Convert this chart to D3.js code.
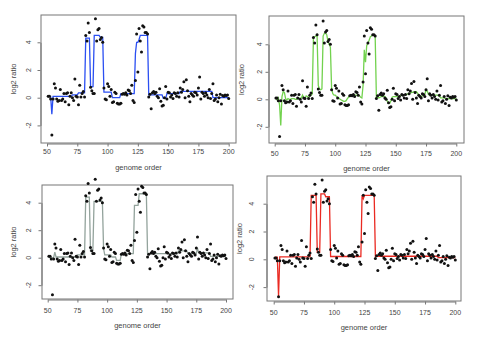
<!DOCTYPE html>
<html>
<head>
<meta charset="utf-8">
<script src="https://cdn.jsdelivr.net/npm/d3@7"></script>
<style>
  body { margin: 0; background: #fff; }
  svg { display: block; font-family: "Liberation Sans", Arial, sans-serif; }
</style>
</head>
<body>
<div class="chart"></div>
<script>
// size of the whole picture
var svgWidth = 478;
var svgHeight = 345;

// log2 ratio values, genome order 51..200
var genomeOrder = d3.range(51, 201);
var logRatio = [
  0.1, 0.1, -0.1, -2.7, -0.1, 1.0, 0.7, -0.1, -0.25, -0.2,
  0.6, -0.2, -0.1, 0.3, -0.3, 0.3, 0.35, -0.5, 0.1, 0.35,
  0.0, -0.2, 1.35, 0.1, 0.05, -0.5, 0.9, 0.05, 0.3, 0.45,
  0.05, 4.5, 4.1, 5.4, 4.7, 0.75, 0.5, 0.3, 0.3, 5.7,
  4.1, 4.9, 5.0, 4.2, 4.35, 4.0, 0.7, -0.1, -0.15, 1.0,
  0.8, 0.1, 0.6, -0.35, -0.3, 0.4, 0.3, -0.4, -0.45, -0.45,
  -0.4, 0.25, 0.3, 0.25, 0.35, 0.2, 0.55, 0.5, 0.3, 0.9,
  -0.2, -0.35, 1.25, 4.6, 1.85, 5.0, 4.1, 3.3, 5.2, 5.1,
  4.7, 4.7, 4.6, 0.05, 0.25, -0.8, 0.35, 0.45, 0.3, 0.4,
  0.1, 0.0, 0.65, -0.25, -0.6, -0.55, 0.0, 0.8, -0.1, 0.4,
  0.35, 0.05, 0.2, -0.05, 0.35, 0.3, 0.1, 0.35, 0.05, 0.7,
  0.4, 0.6, 1.15, 0.0, 1.3, 0.5, 0.1, -0.3, 0.3, 0.2,
  0.1, 0.4, 0.35, 0.2, 0.7, 1.5, -0.1, 0.4, 0.3, 0.1,
  0.35, 0.2, 0.0, 0.6, -0.05, 0.3, 1.0, -0.2, -0.1, 0.2,
  -0.3, 0.0, 0.25, -0.45, 0.15, 0.1, 0.2, 0.15, 0.2, -0.05
];

// fitted segments [from, to, level]
var blueSegments = [
  [51, 53, 0.1], [54, 54, -1.2], [55, 70, 0.1], [71, 75, 0.2], [76, 81, 0.35],
  [82, 85, 4.3], [86, 88, 0.8], [89, 93, 4.5], [94, 96, 4.35], [97, 103, 0.4],
  [104, 110, 0.0], [111, 122, 0.3], [123, 123, 3.2], [124, 125, 4.0], [126, 126, 4.2],
  [127, 133, 4.5], [134, 145, 0.2], [146, 148, -0.05], [149, 159, 0.3],
  [160, 186, 0.45], [187, 200, 0.0]
];
var graySegments = [
  [51, 55, 0.0], [56, 56, 0.4], [57, 74, 0.05], [75, 81, 0.2], [82, 85, 4.4],
  [86, 88, 0.5], [89, 96, 4.1], [97, 97, 0.65], [98, 103, 0.2], [104, 107, 0.05],
  [108, 111, -0.2], [112, 122, 0.3], [123, 126, 3.8], [127, 133, 4.65], [134, 159, 0.3],
  [160, 167, 0.5], [168, 175, 0.3], [176, 176, 0.7], [177, 186, 0.35], [187, 200, 0.1]
];
var redSegments = [
  [51, 53, 0.15], [54, 54, -2.65], [55, 80, 0.17], [81, 85, 4.6], [86, 88, 0.5],
  [89, 92, 4.7], [93, 96, 4.5], [97, 122, 0.2], [123, 123, 4.6], [124, 124, 4.35],
  [125, 133, 4.6], [134, 185, 0.22], [186, 200, 0.12]
];
// smooth fit, one value per genome position
var greenFit = [
  0.05, -0.05, 0.1, -0.4, -1.9, 0.2, 0.55, 0.5, 0.05, -0.05,
  0.05, 0.0, 0.0, 0.05, 0.05, 0.05, 0.0, 0.0, 0.05, 0.1,
  0.05, 0.1, 0.3, 0.1, 0.05, 0.25, 0.2, 0.1, 0.25, 0.3,
  0.4, 4.5, 4.55, 4.6, 4.7, 1.0, 0.75, 0.7, 0.75, 4.6,
  4.8, 4.8, 4.7, 4.2, 4.0, 3.8, 0.8, 0.4, 0.3, 0.3,
  0.2, 0.15, 0.1, 0.0, -0.05, -0.1, -0.15, -0.15, -0.1, 0.05,
  0.15, 0.25, 0.3, 0.3, 0.3, 0.3, 0.3, 0.3, 0.3, 0.25,
  0.15, 0.1, 1.0, 3.6, 2.7, 3.9, 4.1, 4.3, 4.55, 4.6,
  4.7, 4.7, 4.55, 0.1, 0.15, 0.1, 0.15, 0.2, 0.2, 0.25,
  0.2, 0.1, -0.15, -0.25, -0.3, -0.1, 0.15, 0.2, 0.2, 0.2,
  0.2, 0.2, 0.25, 0.25, 0.3, 0.3, 0.3, 0.35, 0.35, 0.4,
  0.45, 0.45, 0.5, 0.5, 0.55, 0.55, 0.55, 0.45, 0.3, 0.2,
  0.2, 0.25, 0.3, 0.35, 0.7, 0.6, 0.35, 0.3, 0.3, 0.3,
  0.3, 0.3, 0.3, 0.3, 0.3, 0.25, 0.1, 0.1, 0.1, 0.1,
  0.05, 0.05, 0.05, 0.05, 0.05, 0.05, 0.05, 0.05, 0.05, 0.02
];

var xTicks = [50, 75, 100, 125, 150, 175, 200];
var yTicks = [-2, 0, 2, 4];

// turn segments into a point list for d3.line
function segmentPoints(segs) {
  var pts = [];
  segs.forEach(function(s) {
    pts.push([s[0], s[2]]);
    if (s[1] !== s[0]) pts.push([s[1], s[2]]);
  });
  return pts;
}

var panels = [
  { box: [41, 236, 15, 143], x: [47, 228.7], y: [97.7, 42.3], xlabY: 154, titleY: 170, ylabX: 31, ytitleX: 16,
    color: "#2b4ff2", fit: segmentPoints(blueSegments) },
  { box: [269, 464, 16, 143], x: [274.7, 456.3], y: [99.3, 44.3], xlabY: 156, titleY: 171, ylabX: 262, ytitleX: 244,
    color: "#72d24e", fit: genomeOrder.map(function(g, i) { return [g, greenFit[i]]; }) },
  { box: [42, 233, 185, 299], x: [47.7, 226], y: [257.7, 202.7], xlabY: 313, titleY: 328, ylabX: 31, ytitleX: 16,
    color: "#93a39c", fit: segmentPoints(graySegments) },
  { box: [267, 461, 176, 301], x: [273.7, 455.3], y: [259.3, 203.7], xlabY: 315, titleY: 330, ylabX: 254, ytitleX: 242,
    color: "#ea2a22", fit: segmentPoints(redSegments) }
];

var svg = d3.select(".chart")
  .append("svg")
  .attr("width", svgWidth)
  .attr("height", svgHeight);

panels.forEach(function(p) {
  var g = svg.append("g");

  var xScale = d3.scaleLinear().domain([50, 200]).range(p.x);
  var unit = (p.y[0] - p.y[1]) / 4;
  var yScale = d3.scaleLinear().domain([-2, 4]).range([p.y[0] + 2 * unit, p.y[1]]);

  // plot box
  g.append("rect")
    .attr("x", p.box[0]).attr("y", p.box[2])
    .attr("width", p.box[1] - p.box[0]).attr("height", p.box[3] - p.box[2])
    .attr("fill", "none").attr("stroke", "#777").attr("stroke-width", 1);

  // bottom axis, R style
  var bottomAxis = d3.axisBottom(xScale).tickValues(xTicks).tickSize(3).tickSizeOuter(0).tickPadding(3);
  var xa = g.append("g")
    .attr("transform", "translate(0," + (p.box[3] + 0.5) + ")")
    .call(bottomAxis);
  xa.select(".domain").attr("stroke", "#777");
  xa.selectAll(".tick line").attr("stroke", "#777");
  xa.selectAll("text").remove();
  g.selectAll(null).data(xTicks).enter().append("text")
    .attr("x", function(d) { return xScale(d); })
    .attr("y", p.xlabY)
    .attr("text-anchor", "middle")
    .attr("font-size", 7)
    .attr("fill", "#444")
    .text(function(d) { return d; });

  // left axis
  var leftAxis = d3.axisLeft(yScale).tickValues(yTicks).tickSize(3).tickSizeOuter(0);
  var ya = g.append("g")
    .attr("transform", "translate(" + (p.box[0] - 0.5) + ",0)")
    .call(leftAxis);
  ya.select(".domain").attr("stroke", "#777");
  ya.selectAll(".tick line").attr("stroke", "#777");
  ya.selectAll("text").remove();
  g.selectAll(null).data(yTicks).enter().append("text")
    .attr("transform", function(d) { return "translate(" + p.ylabX + "," + yScale(d) + ") rotate(-90)"; })
    .attr("text-anchor", "middle")
    .attr("font-size", 7)
    .attr("fill", "#444")
    .text(function(d) { return d; });

  // axis titles
  g.append("text")
    .attr("x", (p.box[0] + p.box[1]) / 2)
    .attr("y", p.titleY)
    .attr("text-anchor", "middle")
    .attr("font-size", 7.5)
    .attr("fill", "#444")
    .text("genome order");
  g.append("text")
    .attr("transform", "translate(" + p.ytitleX + "," + ((p.box[2] + p.box[3]) / 2) + ") rotate(-90)")
    .attr("text-anchor", "middle")
    .attr("font-size", 7.5)
    .attr("fill", "#444")
    .text("log2 ratio");

  // fitted line
  var line = d3.line()
    .x(function(d) { return xScale(d[0]); })
    .y(function(d) { return yScale(d[1]); });
  g.append("path")
    .datum(p.fit)
    .attr("d", line)
    .attr("fill", "none")
    .attr("stroke", p.color)
    .attr("stroke-width", 1.3);

  // data points
  g.selectAll("circle")
    .data(logRatio)
    .enter()
    .append("circle")
    .attr("cx", function(d, i) { return xScale(genomeOrder[i]); })
    .attr("cy", function(d) { return yScale(d); })
    .attr("r", 1.5)
    .attr("fill", "#111");
});
</script>
</body>
</html>
